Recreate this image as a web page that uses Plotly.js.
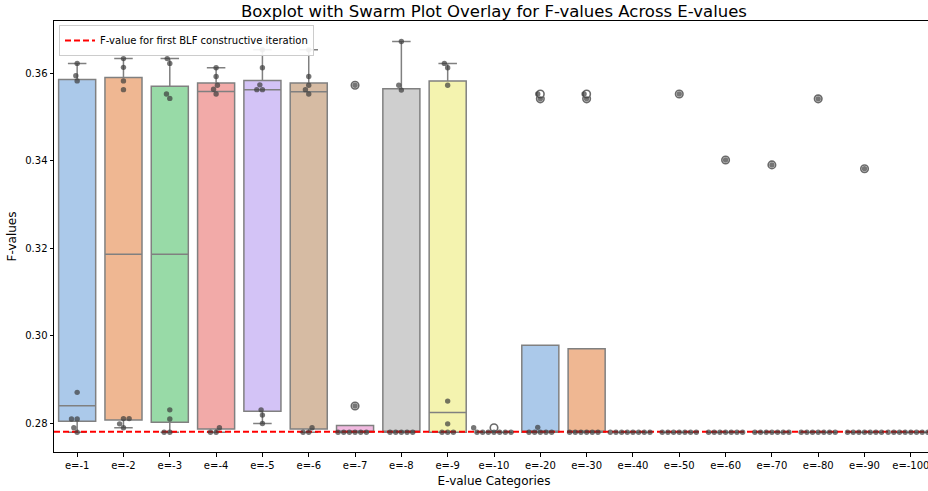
<!DOCTYPE html>
<html>
<head>
<meta charset="utf-8">
<script src="https://cdn.plot.ly/plotly-3.0.1.min.js"></script>
<style>
html, body { margin: 0; padding: 0; overflow: hidden; background: #fff; }
#chart { width: 940px; height: 491px; }
</style>
</head>
<body>
<div id="chart"></div>
<script>
// ---- data ----
const categories = ["e=-1","e=-2","e=-3","e=-4","e=-5","e=-6","e=-7","e=-8","e=-9","e=-10",
                    "e=-20","e=-30","e=-40","e=-50","e=-60","e=-70","e=-80","e=-90","e=-100"];

const fv_e1   = [0.3622, 0.3594, 0.3582, 0.2870, 0.2809, 0.2809, 0.2789, 0.2779];
const fv_e2   = [0.3633, 0.3613, 0.3582, 0.3562, 0.2810, 0.2810, 0.2798, 0.2789];
const fv_e3   = [0.3633, 0.3622, 0.3552, 0.3542, 0.2830, 0.2809, 0.2779, 0.2779];
const fv_e4   = [0.3612, 0.3592, 0.3572, 0.3563, 0.3552, 0.2789, 0.2779, 0.2779];
const fv_e5   = [0.3653, 0.3612, 0.3573, 0.3562, 0.3562, 0.2830, 0.2818, 0.2799];
const fv_e6   = [0.3653, 0.3592, 0.3572, 0.3562, 0.3552, 0.2789, 0.2779, 0.2779];
const fv_e7   = [0.3572, 0.2839, 0.2779, 0.2779, 0.2779, 0.2779, 0.2779, 0.2779];
const fv_e8   = [0.3672, 0.3572, 0.3561, 0.2779, 0.2779, 0.2779, 0.2779, 0.2779];
const fv_e9   = [0.3622, 0.3612, 0.3572, 0.2850, 0.2798, 0.2779, 0.2779, 0.2779];
const fv_e10  = [0.2789, 0.2779, 0.2779, 0.2779, 0.2779, 0.2779, 0.2779, 0.2779];
const fv_e20  = [0.3552, 0.3541, 0.2790, 0.2779, 0.2779, 0.2779, 0.2779, 0.2779];
const fv_e30  = [0.3552, 0.3541, 0.2779, 0.2779, 0.2779, 0.2779, 0.2779, 0.2779];
const fv_e40  = [0.2779, 0.2779, 0.2779, 0.2779, 0.2779, 0.2779, 0.2779, 0.2779];
const fv_e50  = [0.3552, 0.2779, 0.2779, 0.2779, 0.2779, 0.2779, 0.2779, 0.2779];
const fv_e60  = [0.3401, 0.2779, 0.2779, 0.2779, 0.2779, 0.2779, 0.2779, 0.2779];
const fv_e70  = [0.3390, 0.2779, 0.2779, 0.2779, 0.2779, 0.2779, 0.2779, 0.2779];
const fv_e80  = [0.3541, 0.2779, 0.2779, 0.2779, 0.2779, 0.2779, 0.2779, 0.2779];
const fv_e90  = [0.3381, 0.2779, 0.2779, 0.2779, 0.2779, 0.2779, 0.2779, 0.2779];
const fv_e100 = [0.2779, 0.2779, 0.2779, 0.2779, 0.2779, 0.2779, 0.2779, 0.2779];

const seriesValues = [fv_e1, fv_e2, fv_e3, fv_e4, fv_e5, fv_e6, fv_e7, fv_e8, fv_e9, fv_e10,
                      fv_e20, fv_e30, fv_e40, fv_e50, fv_e60, fv_e70, fv_e80, fv_e90, fv_e100];

const blfThreshold = 0.278;
const legendLabel = "F-value for first BLF constructive iteration";

// ---- styling ----
const palette = ["#abc9ea","#efb792","#98daa7","#f2aaa8","#d3c3f6","#d6bba3","#f1b9e0","#cfcfcf","#f4f3af","#c0ebe9"];
const W = 940, H = 491;
const M = {l: 54, r: 6, t: 21, b: 39};
const yRange = [0.27337, 0.37189];
const xRange = [-0.5, categories.length - 0.5];
const plotW = W - M.l - M.r, plotH = H - M.t - M.b;
const pxPerX = plotW / (xRange[1] - xRange[0]);
const pxPerY = plotH / (yRange[1] - yRange[0]);

// numpy-style linear percentile
function pct(sorted, p) {
  const pos = (sorted.length - 1) * p;
  const lo = Math.floor(pos), hi = Math.ceil(pos);
  return sorted[lo] + (pos - lo) * (sorted[hi] - sorted[lo]);
}
function boxStats(vals) {
  const s = vals.slice().sort((a, b) => a - b);
  const q1 = pct(s, 0.25), med = pct(s, 0.5), q3 = pct(s, 0.75);
  const iqr = q3 - q1;
  const loLim = q1 - 1.5 * iqr - 1e-12, hiLim = q3 + 1.5 * iqr + 1e-12;
  const inside = s.filter(v => v >= loLim && v <= hiLim);
  const lf = Math.min(q1, inside[0]);
  const uf = Math.max(q3, inside[inside.length - 1]);
  const outliers = s.filter(v => v < loLim || v > hiLim);
  return {q1, med, q3, lf, uf, outliers};
}

// beeswarm layout (like seaborn) in pixel space
function swarmOffsets(vals, d) {
  const order = vals.map((v, i) => i).sort((a, b) => vals[a] - vals[b]);
  const placed = [];
  const off = new Array(vals.length).fill(0);
  for (const i of order) {
    const y = vals[i] * pxPerY;
    const nb = placed.filter(p => Math.abs(p.y - y) < d);
    let cands = [0];
    let leftFirst = true;
    for (const p of nb) {
      const dy = y - p.y;
      const dx = Math.sqrt(Math.max(d * d - dy * dy, 0)) * 1.05;
      if (leftFirst) cands.push(p.x - dx, p.x + dx); else cands.push(p.x + dx, p.x - dx);
      leftFirst = !leftFirst;
    }
    cands = cands.map((c, k) => ({c, k}))
                 .sort((a, b) => (Math.abs(a.c) - Math.abs(b.c)) || (a.k - b.k))
                 .map(o => o.c);
    let chosen = cands.find(c => nb.every(p => (c - p.x) ** 2 + (y - p.y) ** 2 >= d * d * 0.999));
    if (chosen === undefined) chosen = 0;
    placed.push({x: chosen, y});
    off[i] = chosen / pxPerX;
  }
  return off;
}

const traces = [];
const ox = [], oy = [];
categories.forEach((cat, i) => {
  const st = boxStats(seriesValues[i]);
  traces.push({
    type: 'box',
    x: [i],
    q1: [st.q1], median: [st.med], q3: [st.q3],
    lowerfence: [st.lf], upperfence: [st.uf],
    width: 0.8,
    whiskerwidth: 0.5,
    boxpoints: false,
    fillcolor: palette[i % palette.length],
    line: {color: '#808080', width: 1.5},
    showlegend: false,
    hoverinfo: 'skip'
  });
  st.outliers.forEach(v => { ox.push(i); oy.push(v); });
});

// threshold line (legend entry)
traces.push({
  type: 'scatter', mode: 'lines',
  x: xRange, y: [blfThreshold, blfThreshold],
  line: {color: '#ff0000', width: 1.8, dash: '6px,3px'},
  name: legendLabel, showlegend: true, hoverinfo: 'skip'
});

// box fliers
traces.push({
  type: 'scatter', mode: 'markers', x: ox, y: oy,
  marker: {symbol: 'circle', size: 7.5, color: 'rgba(255,255,255,1)', line: {color: '#6a6a6a', width: 1.6}},
  showlegend: false, hoverinfo: 'skip'
});

// swarm points
const sx = [], sy = [];
categories.forEach((cat, i) => {
  const vals = seriesValues[i];
  const off = swarmOffsets(vals, 5.4);
  vals.forEach((v, k) => { sx.push(i + off[k]); sy.push(v); });
});
traces.push({
  type: 'scatter', mode: 'markers', x: sx, y: sy,
  marker: {size: 5.4, color: 'rgba(60,60,60,0.7)'},
  showlegend: false, hoverinfo: 'skip'
});

const font = 'DejaVu Sans, sans-serif';
const layout = {
  width: W, height: H,
  margin: M,
  paper_bgcolor: '#ffffff', plot_bgcolor: '#ffffff',
  font: {family: font, color: '#000000', size: 10},
  title: {text: 'Boxplot with Swarm Plot Overlay for F-values Across E-values',
          font: {family: font, size: 16.5, color: '#000'},
          x: 0.5, xref: 'paper', xanchor: 'center', y: 1 - 11 / H, yref: 'container', yanchor: 'middle'},
  boxmode: 'overlay',
  xaxis: {
    type: 'linear', range: xRange,
    tickmode: 'array', tickvals: categories.map((c, i) => i), ticktext: categories,
    ticks: 'outside', ticklen: 3.5, tickwidth: 1, tickcolor: '#000',
    showline: true, linecolor: '#000', linewidth: 1, mirror: true,
    showgrid: false, zeroline: false,
    tickfont: {family: font, size: 10, color: '#000'},
    title: {text: 'E-value Categories', font: {family: font, size: 12, color: '#000'}, standoff: 7}
  },
  yaxis: {
    range: yRange, tick0: 0.28, dtick: 0.02, tickformat: '.2f',
    ticks: 'outside', ticklen: 3.5, tickwidth: 1, tickcolor: '#000',
    showline: true, linecolor: '#000', linewidth: 1, mirror: true,
    showgrid: false, zeroline: false,
    tickfont: {family: font, size: 10, color: '#000'},
    title: {text: 'F-values', font: {family: font, size: 12, color: '#000'}, standoff: 6}
  },
  legend: {
    x: 5 / plotW, y: 1 - 4 / plotH, xanchor: 'left', yanchor: 'top',
    bgcolor: 'rgba(255,255,255,0.9)', bordercolor: '#cccccc', borderwidth: 1,
    font: {family: font, size: 10, color: '#000'},
    itemwidth: 30, tracegroupgap: 0
  },
  showlegend: true
};

Plotly.newPlot('chart', traces, layout, {displayModeBar: false, staticPlot: true});
</script>
</body>
</html>
